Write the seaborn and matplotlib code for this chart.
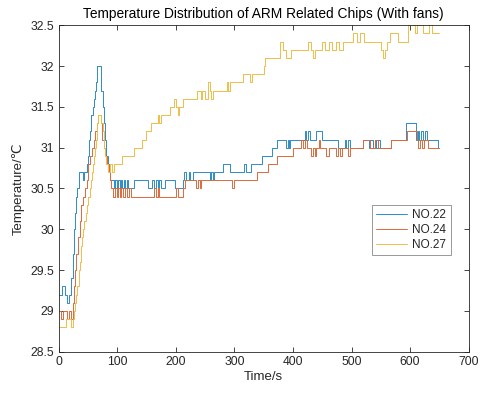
import numpy as np
import pandas as pd
import matplotlib
matplotlib.use('Agg')
import matplotlib.pyplot as plt
import seaborn as sns

# change points: time (s) and temperature (C), held until the next point
t22 = [0, 6, 11, 14, 17, 22, 24, 26, 28, 30, 32, 34, 41, 43, 48, 50, 52, 54, 56, 58, 60, 62, 64, 66,
       73, 75, 77, 79, 81, 84, 86, 88, 95, 97, 100, 102, 105, 107, 109, 111, 114, 117, 119, 129,
       152, 160, 163, 166, 169, 172, 175, 182, 199, 212, 214, 217, 222, 224, 229, 258, 261, 263,
       266, 280, 292, 316, 320, 328, 347, 364, 372, 389, 391, 393, 395, 420, 423, 425, 429, 440,
       449, 477, 489, 491, 494, 497, 520, 530, 532, 537, 540, 542, 545, 548, 568, 593, 610, 613,
       616, 619, 622, 625, 628, 648, 650]
v22 = [29.2, 29.3, 29.2, 29.1, 29.2, 29.4, 29.7, 30.0, 30.2, 30.4, 30.5, 30.7, 30.6, 30.7, 30.8,
       30.9, 31.1, 31.2, 31.4, 31.5, 31.6, 31.7, 31.8, 32.0, 31.7, 31.5, 31.3, 31.1, 30.9, 30.8,
       30.7, 30.6, 30.5, 30.6, 30.5, 30.6, 30.5, 30.6, 30.5, 30.6, 30.5, 30.6, 30.5, 30.6, 30.5,
       30.6, 30.5, 30.6, 30.5, 30.6, 30.5, 30.6, 30.5, 30.6, 30.7, 30.6, 30.7, 30.6, 30.7, 30.6,
       30.7, 30.6, 30.7, 30.8, 30.7, 30.8, 30.7, 30.8, 30.9, 31.0, 31.1, 31.0, 31.1, 31.0, 31.1,
       31.2, 31.1, 31.2, 31.1, 31.2, 31.1, 31.0, 31.1, 31.0, 31.1, 31.0, 31.1, 31.0, 31.1, 31.0,
       31.1, 31.0, 31.1, 31.0, 31.1, 31.3, 31.1, 31.2, 31.1, 31.2, 31.1, 31.2, 31.1, 31.0, 31.0]

t24 = [0, 4, 8, 14, 17, 21, 24, 26, 28, 30, 33, 36, 39, 42, 45, 48, 51, 54, 57, 60, 63, 65, 67,
       72, 74, 77, 80, 83, 86, 88, 90, 93, 96, 99, 102, 104, 107, 110, 113, 116, 120, 123, 163,
       166, 169, 172, 201, 203, 213, 215, 235, 238, 241, 243, 296, 299, 338, 358, 372, 400, 414,
       417, 421, 424, 430, 434, 437, 440, 444, 447, 456, 462, 474, 477, 480, 483, 494, 497, 520,
       531, 540, 546, 568, 594, 611, 614, 617, 620, 623, 631, 650]
v24 = [29.0, 28.9, 29.0, 28.9, 29.0, 28.9, 29.1, 29.3, 29.5, 29.7, 29.9, 30.1, 30.3, 30.4, 30.5,
       30.6, 30.8, 30.9, 31.0, 31.1, 31.2, 31.3, 31.4, 31.3, 31.1, 31.0, 30.9, 30.8, 30.7, 30.6,
       30.5, 30.4, 30.5, 30.4, 30.5, 30.4, 30.5, 30.4, 30.5, 30.4, 30.5, 30.4, 30.5, 30.4, 30.5,
       30.4, 30.5, 30.4, 30.5, 30.6, 30.5, 30.6, 30.5, 30.6, 30.5, 30.6, 30.7, 30.8, 30.9, 31.0,
       31.1, 31.0, 31.1, 31.0, 30.9, 31.0, 30.9, 31.0, 31.1, 31.0, 30.9, 31.0, 30.9, 31.0, 30.9,
       31.0, 30.9, 31.0, 31.1, 31.0, 31.1, 31.0, 31.1, 31.2, 31.1, 31.0, 31.1, 31.0, 31.1, 31.0,
       31.0]

t27 = [0, 12, 21, 24, 26, 28, 30, 32, 34, 36, 38, 40, 42, 44, 46, 49, 51, 53, 55, 57, 59, 61, 62,
       64, 65, 66, 68, 73, 75, 77, 79, 81, 84, 88, 91, 94, 109, 128, 142, 150, 158, 170, 172, 175,
       190, 197, 200, 203, 206, 212, 236, 243, 245, 250, 255, 258, 260, 263, 287, 289, 292, 315,
       326, 330, 350, 353, 378, 383, 389, 396, 426, 431, 434, 438, 450, 455, 462, 467, 474, 479,
       485, 502, 510, 514, 522, 551, 554, 558, 560, 566, 580, 597, 608, 611, 622, 632, 637, 650]
v27 = [28.8, 28.9, 28.8, 28.9, 29.0, 29.1, 29.2, 29.3, 29.5, 29.6, 29.8, 29.9, 30.0, 30.1, 30.2,
       30.3, 30.4, 30.5, 30.6, 30.7, 30.8, 30.9, 31.0, 31.1, 31.2, 31.3, 31.4, 31.3, 31.2, 31.0,
       30.9, 30.8, 30.7, 30.8, 30.7, 30.8, 30.9, 31.0, 31.1, 31.2, 31.3, 31.4, 31.3, 31.4, 31.5,
       31.6, 31.5, 31.4, 31.5, 31.6, 31.7, 31.6, 31.7, 31.6, 31.8, 31.7, 31.6, 31.7, 31.8, 31.7,
       31.8, 31.9, 31.8, 31.9, 32.0, 32.1, 32.3, 32.2, 32.1, 32.2, 32.3, 32.2, 32.1, 32.2, 32.3,
       32.2, 32.3, 32.2, 32.3, 32.2, 32.3, 32.4, 32.3, 32.4, 32.3, 32.2, 32.1, 32.2, 32.3, 32.4,
       32.3, 32.5, 32.4, 32.5, 32.4, 32.5, 32.4, 32.4]

chips = ['NO.22', 'NO.24', 'NO.27']
colors = ['#2f8cc6', '#dc6a3c', '#eebd48']

df = pd.concat([
    pd.DataFrame({'Time': t, 'Temp': v, 'Chip': name})
    for t, v, name in [(t22, v22, chips[0]), (t24, v24, chips[1]), (t27, v27, chips[2])]
], ignore_index=True)

sns.set_theme(style='ticks')
plt.rcParams['font.family'] = ['Liberation Sans', 'DejaVu Sans']

fig = plt.figure(figsize=(4.81, 3.94), dpi=100)
ax = fig.add_axes([0.1218, 0.1074, 0.8526, 0.8284])

sns.lineplot(data=df, x='Time', y='Temp', hue='Chip', palette=colors, drawstyle='steps-post',
             linewidth=0.7, errorbar=None, ax=ax)

ax.set_xlim(0, 700)
ax.set_ylim(28.5, 32.5)
ax.set_xticks(np.arange(0, 701, 100))
ax.set_yticks(np.arange(28.5, 32.51, 0.5))
ax.set_yticklabels(['%g' % y for y in np.arange(28.5, 32.51, 0.5)])

dark = '#262626'
ax.tick_params(direction='in', top=True, right=True, length=3.5, width=0.6,
               labelsize=8.7, colors=dark, pad=3)
for s in ax.spines.values():
    s.set_linewidth(0.6)
    s.set_color(dark)

ax.set_xlabel('Time/s', fontsize=9.5, color=dark, labelpad=2)
ax.set_ylabel('Temperature/℃', fontsize=9.5, color=dark, labelpad=4)
ax.set_title('Temperature Distribution of ARM Related Chips (With fans)', fontsize=9.9,
             color='black', pad=5)

handles, labels = ax.get_legend_handles_labels()
leg = ax.legend(handles, labels, loc='upper left', bbox_to_anchor=(0.7635, 0.4494),
                fontsize=8.5, frameon=True, fancybox=False, framealpha=1, edgecolor='#888888',
                handlelength=2.6, handletextpad=0.5, borderpad=0.35, labelspacing=0.25,
                borderaxespad=0)
leg.get_frame().set_linewidth(0.6)

fig.savefig('out.png', dpi=100)
